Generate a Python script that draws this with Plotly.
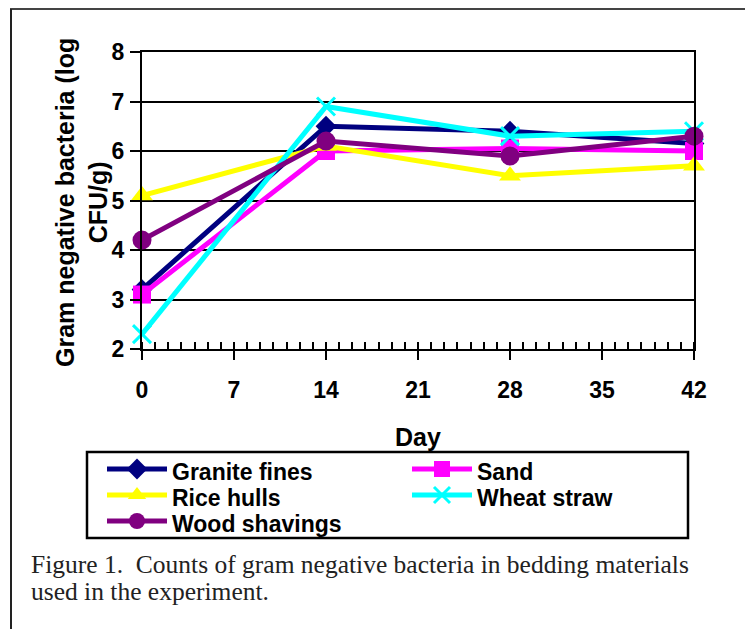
import plotly.graph_objects as go

# ---- data ----
days = [0, 14, 28, 42]
granite_fines = [3.2, 6.5, 6.4, 6.15]
sand = [3.1, 6.0, 6.05, 6.0]
rice_hulls = [5.1, 6.1, 5.5, 5.7]
wheat_straw = [2.3, 6.9, 6.3, 6.4]
wood_shavings = [4.2, 6.2, 5.9, 6.3]
x_ticks = [0, 7, 14, 21, 28, 35, 42]
y_ticks = [2, 3, 4, 5, 6, 7, 8]
series_names = ["Granite fines", "Sand", "Rice hulls", "Wheat straw", "Wood shavings"]

# page has an 8px body margin; figure coords = screen coords - 8
OFF = 8
W, H = 753 - OFF, 629 - OFF
L, R, T, B = 142 - OFF, 59, 52 - OFF, 629 - 349
PW, PH = W - L - R, H - T - B


def px(s):
    return (s - OFF - L) / PW


def py(s):
    return (H - B - (s - OFF)) / PH


SANS = "Liberation Sans"
SERIF = "Liberation Serif"

styles = [
    ("#000080", dict(symbol="diamond", size=16)),
    ("#FF00FF", dict(symbol="square", size=18)),
    ("#FFFF00", dict(symbol="triangle-up", size=19)),
    ("#00FFFF", dict(symbol="x-thin", size=18, line=dict(color="#00FFFF", width=3))),
    ("#800080", dict(symbol="circle", size=19)),
]
values = [granite_fines, sand, rice_hulls, wheat_straw, wood_shavings]

fig = go.Figure()
for name, vals, (color, mk) in zip(series_names, values, styles):
    fig.add_trace(go.Scatter(
        x=days, y=vals, mode="lines+markers",
        name='<span style="font-size:23px;baseline-shift:-4px">' + name + '</span>',
        hovertext=name,
        line=dict(color=color, width=5),
        marker=dict(color=color, **mk),
        cliponaxis=False,
    ))

fig.update_layout(
    width=W, height=H,
    margin=dict(l=L, r=R, t=T, b=B, pad=0),
    paper_bgcolor="white", plot_bgcolor="white",
    font=dict(family=SANS, color="black"),
    showlegend=True,
    legend=dict(
        orientation="h", x=px(102), y=py(451), xanchor="left", yanchor="top",
        entrywidth=230, entrywidthmode="pixels", itemwidth=60,
        font=dict(family=SANS, size=17.7, weight="bold", color="black"),
        bgcolor="rgba(0,0,0,0)", borderwidth=0, tracegroupgap=0,
    ),
    xaxis=dict(
        range=[0, 42], tickvals=x_ticks, ticktext=[str(v) for v in x_ticks],
        showgrid=False, zeroline=False,
        showline=True, linecolor="black", linewidth=2, mirror=True,
        ticks="outside", ticklen=9, tickwidth=2, tickcolor="black",
        minor=dict(dtick=1, ticks="inside", ticklen=7, tickwidth=2, tickcolor="black", showgrid=False),
        tickfont=dict(family=SANS, size=23, weight="bold", color="black"),
        ticklabelstandoff=10,
    ),
    yaxis=dict(
        range=[2, 8], tickvals=y_ticks, ticktext=[str(v) for v in y_ticks],
        showgrid=True, gridcolor="black", gridwidth=2, zeroline=False,
        showline=True, linecolor="black", linewidth=2, mirror=True,
        ticks="outside", ticklen=10, tickwidth=2, tickcolor="black",
        tickfont=dict(family=SANS, size=23, weight="bold", color="black"),
        ticklabelstandoff=1,
    ),
    annotations=[
        dict(text="Gram negative bacteria (log<br>CFU/g)", textangle=-90,
             xref="paper", yref="paper", x=px(81), y=py(203),
             xanchor="center", yanchor="middle", showarrow=False,
             font=dict(family=SANS, size=25, weight="bold", color="black")),
        dict(text="Day", xref="paper", yref="paper", x=px(418), y=py(437),
             xanchor="center", yanchor="middle", showarrow=False,
             font=dict(family=SANS, size=25, weight="bold", color="black")),
        dict(text="Figure 1.  Counts of gram negative bacteria in bedding materials",
             xref="paper", yref="paper", x=px(29), y=py(564),
             xanchor="left", yanchor="middle", align="left", showarrow=False,
             font=dict(family=SERIF, size=25.5, color="#222222")),
        dict(text="used in the experiment.",
             xref="paper", yref="paper", x=px(29), y=py(591),
             xanchor="left", yanchor="middle", align="left", showarrow=False,
             font=dict(family=SERIF, size=25.5, color="#222222")),
    ],
    shapes=[
        dict(type="rect", xref="paper", yref="paper",
             x0=px(87), x1=px(688), y0=py(452), y1=py(538),
             line=dict(color="black", width=2.5), fillcolor="rgba(0,0,0,0)", layer="below"),
        dict(type="line", xref="paper", yref="paper",
             x0=px(10), x1=px(753), y0=py(9), y1=py(9),
             line=dict(color="#444444", width=2)),
        dict(type="line", xref="paper", yref="paper",
             x0=px(11), x1=px(11), y0=py(9), y1=py(629),
             line=dict(color="#222222", width=2)),
    ],
)

fig.write_html("out.html")
